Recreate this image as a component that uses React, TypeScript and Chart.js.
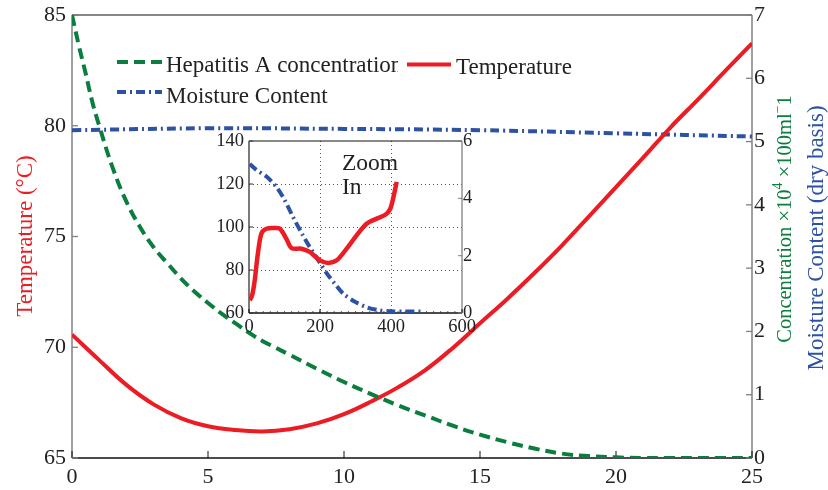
import React, { useEffect, useRef } from "react";
import { Chart, registerables } from "chart.js";

Chart.register(...registerables);

const FONT = '"Liberation Serif", "Times New Roman", serif';

// ---------- main chart data ----------
const tempTime = [0, 1, 2, 3, 4, 5, 6, 7, 8, 9, 10, 11, 12, 13, 14, 15, 16, 17, 18, 19, 20, 21, 22, 23, 24, 25];
const temperature = [70.57, 69.42, 68.3, 67.42, 66.8, 66.43, 66.26, 66.2, 66.3, 66.56, 66.98, 67.55, 68.2, 68.98, 69.97, 71.08, 72.18, 73.35, 74.58, 75.9, 77.23, 78.56, 79.92, 81.17, 82.45, 83.72];

const concTime = [0, 0.25, 0.5, 0.75, 1, 1.5, 2, 2.5, 3, 3.5, 4, 4.5, 5, 5.5, 6, 6.5, 7, 7.5, 8, 9, 10, 11, 12, 13, 14, 15, 16, 17, 18, 19, 20, 21, 22, 23, 24, 25];
const concentration = [7.0, 6.52, 6.08, 5.62, 5.25, 4.58, 4.05, 3.65, 3.33, 3.08, 2.84, 2.63, 2.45, 2.28, 2.13, 1.98, 1.85, 1.74, 1.63, 1.41, 1.2, 1.01, 0.83, 0.67, 0.51, 0.37, 0.25, 0.15, 0.07, 0.03, 0.01, 0, 0, 0, 0, 0];

const moistTime = [0, 5, 10, 15, 20, 25];
const moisture = [5.18, 5.21, 5.2, 5.18, 5.13, 5.08];

const xTicks = [0, 5, 10, 15, 20, 25];
const tempTicks = [65, 70, 75, 80, 85];
const rightTicks = [0, 1, 2, 3, 4, 5, 6, 7];

const legendLabels = ["Hepatitis A concentration", "Temperature", "Moisture Content"];
const leftTitle = "Temperature (\u00B0C)";
const rightTitleBlue = "Moisture Content (dry basis)";

// ---------- inset (zoom) data ----------
const zoomTempTime = [2, 6, 10, 16, 25, 35, 49, 70, 87, 105, 120, 148, 171, 200, 223, 247, 275, 303, 332, 360, 384, 398, 407, 416];
const zoomTemp = [66, 67, 69, 75, 87.6, 97, 99.2, 99.5, 99.2, 94.6, 90.2, 89.9, 88.4, 84.5, 83.3, 84.5, 89.9, 96.1, 101.6, 103.9, 105.7, 108.5, 114, 121];
const zoomMoistTime = [2, 20, 50, 77, 100, 124, 150, 171, 200, 218, 240, 266, 300, 332, 365, 397, 440, 486];
const zoomMoist = [5.2, 5.0, 4.75, 4.4, 3.95, 3.35, 2.75, 2.3, 1.75, 1.4, 1.05, 0.67, 0.38, 0.2, 0.1, 0.06, 0.05, 0.05];

const zoomXTicks = [0, 200, 400, 600];
const zoomLeftTicks = [60, 80, 100, 120, 140];
const zoomRightTicks = [0, 2, 4, 6];
const zoomText = ["Zoom", "In"];

const RED = "#ec1c24";
const GREEN = "#0b7d3e";
const BLUE = "#2e52a3";

function seg(ctx: CanvasRenderingContext2D, x1: number, y1: number, x2: number, y2: number, color: string, w: number) {
  ctx.beginPath();
  ctx.strokeStyle = color;
  ctx.lineWidth = w;
  ctx.moveTo(x1, y1);
  ctx.lineTo(x2, y2);
  ctx.stroke();
}

type Part = { t: string; sup?: boolean };

function drawVertical(ctx: CanvasRenderingContext2D, parts: Part[], baseX: number, centerY: number, size: number, color: string) {
  ctx.save();
  ctx.translate(baseX, centerY);
  ctx.rotate(-Math.PI / 2);
  ctx.fillStyle = color;
  ctx.textBaseline = "alphabetic";
  ctx.textAlign = "left";
  const fontN = `${size}px ${FONT}`;
  const fontS = `${Math.round(size * 0.7)}px ${FONT}`;
  let total = 0;
  const widths = parts.map((p) => {
    ctx.font = p.sup ? fontS : fontN;
    const w = ctx.measureText(p.t).width;
    total += w;
    return w;
  });
  let x = -total / 2;
  parts.forEach((p, i) => {
    ctx.font = p.sup ? fontS : fontN;
    ctx.fillText(p.t, x, p.sup ? -size * 0.42 : 0);
    x += widths[i];
  });
  ctx.restore();
}

const mainFrame = {
  id: "mainFrame",
  beforeDatasetsDraw(chart: any) {
    const ctx = chart.ctx as CanvasRenderingContext2D;
    const { left, right, top, bottom } = chart.chartArea;
    ctx.save();
    seg(ctx, left, top, right, top, "#111", 1);
    seg(ctx, left, bottom, right, bottom, "#111", 1.3);
    seg(ctx, left, top, left, bottom, "#808080", 1.5);
    seg(ctx, right, top, right, bottom, "#808080", 1.5);
    const xs = chart.scales.x, ys = chart.scales.y, y2 = chart.scales.y2;
    xTicks.forEach((v) => {
      const px = xs.getPixelForValue(v);
      seg(ctx, px, bottom, px, bottom - 7, "#111", 1);
    });
    tempTicks.forEach((v) => {
      const py = ys.getPixelForValue(v);
      seg(ctx, left, py, left + 6, py, "#808080", 1.3);
    });
    rightTicks.forEach((v) => {
      const py = y2.getPixelForValue(v);
      seg(ctx, right - 6, py, right, py, "#808080", 1.3);
    });
    ctx.restore();
  },
  afterDraw(chart: any) {
    const ctx = chart.ctx as CanvasRenderingContext2D;
    ctx.save();
    // legend
    ctx.lineCap = "butt";
    ctx.setLineDash([11, 6]);
    seg(ctx, 117, 62, 162, 62, GREEN, 4);
    ctx.setLineDash([]);
    seg(ctx, 407, 64.5, 451, 64.5, RED, 4);
    ctx.setLineDash([9, 4, 2, 4]);
    seg(ctx, 117, 92, 162, 92, BLUE, 4);
    ctx.setLineDash([]);
    ctx.font = `23px ${FONT}`;
    ctx.fillStyle = "#222";
    ctx.textAlign = "left";
    ctx.textBaseline = "alphabetic";
    ctx.save();
    ctx.beginPath();
    ctx.rect(160, 40, 238, 50);
    ctx.clip();
    ctx.fillText(legendLabels[0], 166, 72);
    ctx.restore();
    ctx.fillText(legendLabels[1], 456, 73.5);
    ctx.fillText(legendLabels[2], 166, 103);
    // axis titles
    drawVertical(ctx, [{ t: leftTitle }], 32, 236, 23, RED);
    drawVertical(
      ctx,
      [{ t: "Concentration \u00D710" }, { t: "4", sup: true }, { t: " \u00D7100ml" }, { t: "\u2212", sup: true }, { t: "1" }],
      791,
      219,
      20.5,
      GREEN
    );
    drawVertical(ctx, [{ t: rightTitleBlue }], 823, 238, 23, BLUE);
    ctx.restore();
  },
};

const insetFrame = {
  id: "insetFrame",
  beforeDraw(chart: any) {
    const ctx = chart.ctx as CanvasRenderingContext2D;
    const { left, right, top, bottom } = chart.chartArea;
    ctx.save();
    ctx.fillStyle = "#fff";
    ctx.fillRect(left, top, right - left, bottom - top);
    ctx.restore();
  },
  beforeDatasetsDraw(chart: any) {
    const ctx = chart.ctx as CanvasRenderingContext2D;
    const { left, right, top, bottom } = chart.chartArea;
    const xs = chart.scales.x, ys = chart.scales.y, y2 = chart.scales.y2;
    ctx.save();
    ctx.setLineDash([1, 3]);
    zoomXTicks.slice(1, -1).forEach((v) => {
      const px = Math.round(xs.getPixelForValue(v)) + 0.5;
      seg(ctx, px, top, px, bottom, "#555", 1);
    });
    zoomLeftTicks.slice(1, -1).forEach((v) => {
      const py = Math.round(ys.getPixelForValue(v)) + 0.5;
      seg(ctx, left, py, right, py, "#555", 1);
    });
    ctx.setLineDash([]);
    seg(ctx, left, top, right, top, "#111", 1);
    seg(ctx, left, bottom, right, bottom, "#111", 1.3);
    seg(ctx, left, top, left, bottom, "#333", 1.3);
    seg(ctx, right, top, right, bottom, "#808080", 1.3);
    for (let v = 20; v < 600; v += 20) {
      const px = xs.getPixelForValue(v);
      seg(ctx, px, bottom, px, bottom - 2, "#333", 0.8);
    }
    zoomXTicks.forEach((v) => {
      const px = xs.getPixelForValue(v);
      seg(ctx, px, bottom, px, bottom - 4, "#111", 1);
    });
    zoomLeftTicks.forEach((v) => {
      const py = ys.getPixelForValue(v);
      seg(ctx, left, py, left + 4, py, "#333", 1);
    });
    zoomRightTicks.forEach((v) => {
      const py = y2.getPixelForValue(v);
      seg(ctx, right - 4, py, right, py, "#808080", 1);
    });
    ctx.restore();
  },
  afterDraw(chart: any) {
    const ctx = chart.ctx as CanvasRenderingContext2D;
    ctx.save();
    ctx.font = `23.5px ${FONT}`;
    ctx.fillStyle = "#222";
    ctx.textAlign = "left";
    ctx.textBaseline = "alphabetic";
    ctx.fillText(zoomText[0], 142, 45);
    ctx.fillText(zoomText[1], 142, 69);
    ctx.restore();
  },
};

const tickFont = (size: number, lineHeight = 1) => ({ family: FONT, size, lineHeight });

export default function App() {
  const mainRef = useRef<HTMLCanvasElement>(null);
  const insetRef = useRef<HTMLCanvasElement>(null);

  useEffect(() => {
    document.body.style.margin = "0";
    const main = new Chart(mainRef.current!, {
      type: "line",
      data: {
        datasets: [
          {
            label: legendLabels[0],
            data: concTime.map((t, i) => ({ x: t, y: concentration[i] })),
            yAxisID: "y2",
            borderColor: GREEN,
            borderWidth: 4,
            borderDash: [11, 6],
            pointRadius: 0,
            tension: 0.4,
            fill: false,
          },
          {
            label: legendLabels[1],
            data: tempTime.map((t, i) => ({ x: t, y: temperature[i] })),
            yAxisID: "y",
            borderColor: RED,
            borderWidth: 4,
            pointRadius: 0,
            tension: 0.4,
            fill: false,
          },
          {
            label: legendLabels[2],
            data: moistTime.map((t, i) => ({ x: t, y: moisture[i] })),
            yAxisID: "y2",
            borderColor: BLUE,
            borderWidth: 4,
            borderDash: [9, 4, 2, 4],
            pointRadius: 0,
            tension: 0.4,
            fill: false,
          },
        ],
      },
      options: {
        responsive: false,
        animation: false,
        events: [],
        layout: { padding: { top: 15, left: 0, right: 0, bottom: 0 } },
        plugins: { legend: { display: false }, tooltip: { enabled: false } },
        scales: {
          x: {
            type: "linear",
            min: 0,
            max: 25,
            ticks: { stepSize: 5, font: tickFont(22), color: "#222", padding: 8, maxRotation: 0 },
            grid: { display: false, drawTicks: false },
            border: { display: false },
            afterFit: (s: any) => { s.height = 32; },
          },
          y: {
            type: "linear",
            position: "left",
            min: 65,
            max: 85,
            ticks: { stepSize: 5, font: tickFont(22, 0.7), color: "#222", padding: 6 },
            grid: { display: false, drawTicks: false },
            border: { display: false },
            afterFit: (s: any) => { s.width = 72; },
          },
          y2: {
            type: "linear",
            position: "right",
            min: 0,
            max: 7,
            ticks: { stepSize: 1, font: tickFont(22, 0.7), color: "#222", padding: 2 },
            grid: { display: false, drawTicks: false },
            border: { display: false },
            afterFit: (s: any) => { s.width = 76; },
          },
        },
      } as any,
      plugins: [mainFrame],
    });

    const inset = new Chart(insetRef.current!, {
      type: "line",
      data: {
        datasets: [
          {
            data: zoomTempTime.map((t, i) => ({ x: t, y: zoomTemp[i] })),
            yAxisID: "y",
            borderColor: RED,
            borderWidth: 4.5,
            pointRadius: 0,
            tension: 0.3,
            fill: false,
          },
          {
            data: zoomMoistTime.map((t, i) => ({ x: t, y: zoomMoist[i] })),
            yAxisID: "y2",
            borderColor: BLUE,
            borderWidth: 4,
            borderDash: [9, 4, 2, 4],
            pointRadius: 0,
            tension: 0.3,
            fill: false,
          },
        ],
      },
      options: {
        responsive: false,
        animation: false,
        events: [],
        layout: { padding: { top: 16, left: 0, right: 0, bottom: 0 } },
        plugins: { legend: { display: false }, tooltip: { enabled: false } },
        scales: {
          x: {
            type: "linear",
            min: 0,
            max: 600,
            ticks: { stepSize: 200, font: tickFont(18.5), color: "#222", padding: 5, maxRotation: 0 },
            grid: { display: false, drawTicks: false },
            border: { display: false },
            afterFit: (s: any) => { s.height = 37; },
          },
          y: {
            type: "linear",
            position: "left",
            min: 60,
            max: 140,
            ticks: { stepSize: 20, font: tickFont(18.5, 0.7), color: "#222", padding: 5 },
            grid: { display: false, drawTicks: false },
            border: { display: false },
            afterFit: (s: any) => { s.width = 49; },
          },
          y2: {
            type: "linear",
            position: "right",
            min: 0,
            max: 6,
            ticks: { stepSize: 2, font: tickFont(18.5, 0.7), color: "#222", padding: 1 },
            grid: { display: false, drawTicks: false },
            border: { display: false },
            afterFit: (s: any) => { s.width = 28; },
          },
        },
      } as any,
      plugins: [insetFrame],
    });

    return () => {
      main.destroy();
      inset.destroy();
    };
  }, []);

  return (
    <div style={{ position: "relative", width: 828, height: 490, background: "#fff" }}>
      <canvas ref={mainRef} width={828} height={490} style={{ position: "absolute", left: 0, top: 0 }} />
      <canvas ref={insetRef} width={290} height={225} style={{ position: "absolute", left: 200, top: 125 }} />
    </div>
  );
}
